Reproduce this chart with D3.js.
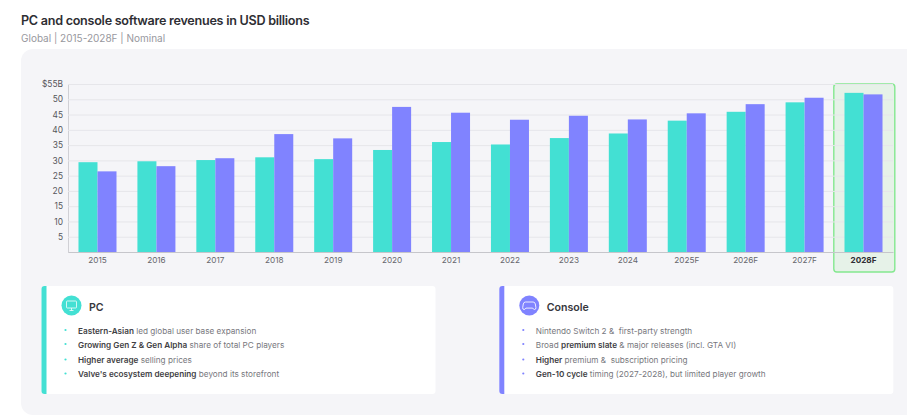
<!DOCTYPE html>
<html>
<head>
<meta charset="utf-8">
<script src="https://cdn.jsdelivr.net/npm/d3@7"></script>
<style>
  html, body { margin: 0; padding: 0; background: #fff; overflow: hidden; }
  text { font-family: Inter, "Open Sans", sans-serif; }
</style>
</head>
<body>
<svg id="chart" width="907" height="420"></svg>
<script>
var years = ["2015", "2016", "2017", "2018", "2019", "2020", "2021", "2022", "2023", "2024", "2025F", "2026F", "2027F", "2028F"];
var pcValues = [29.4, 29.7, 30.1, 31, 30.4, 33.4, 36, 35.2, 37.3, 38.8, 43, 45.9, 49, 52.1];
var consoleValues = [26.4, 28.1, 30.7, 38.6, 37.2, 47.5, 45.6, 43.3, 44.6, 43.4, 45.4, 48.4, 50.5, 51.6];
var yTicks = [5, 10, 15, 20, 25, 30, 35, 40, 45, 50, 55];

var titleText = "PC and console software revenues in USD billions";
var subtitleText = "Global | 2015-2028F | Nominal";

// each line is [text, bold?] pieces
var pcNotes = [
    [["Eastern-Asian", true], [" led global user base expansion", false]],
    [["Growing Gen Z & Gen Alpha", true], [" share of total PC players", false]],
    [["Higher average", true], [" selling prices", false]],
    [["Valve's ecosystem deepening", true], [" beyond its storefront", false]]
];
var consoleNotes = [
    [["Nintendo Switch 2 &  first-party strength", false]],
    [["Broad ", false], ["premium slate", true], [" & major releases (incl. GTA VI)", false]],
    [["Higher", true], [" premium &  subscription pricing", false]],
    [["Gen-10 cycle", true], [" timing (2027-2028), but limited player growth", false]]
];

var TEAL = "#43e0d3";
var PURPLE = "#8083ff";

var svg = d3.select("#chart");

svg.append("text")
    .attr("x", 21).attr("y", 25)
    .attr("font-size", 12.6).attr("font-weight", 600)
    .attr("letter-spacing", -0.27)
    .attr("fill", "#2e2e33")
    .text(titleText);

svg.append("text")
    .attr("x", 21).attr("y", 42)
    .attr("font-size", 10)
    .attr("fill", "#98989e")
    .text(subtitleText);

// grey panel, runs off the right edge
svg.append("rect")
    .attr("x", 21).attr("y", 49)
    .attr("width", 920).attr("height", 366)
    .attr("rx", 12)
    .attr("fill", "#f5f5f8");

var x = d3.scaleBand()
    .domain(years)
    .range([68, 893])
    .paddingInner(0.355)
    .paddingOuter(0.178);

var y = d3.scaleLinear()
    .domain([0, 55])
    .range([252, 84]);

var xSub = d3.scaleBand()
    .domain(["pc", "console"])
    .range([0, x.bandwidth()]);

// highlight behind the last year
svg.append("rect")
    .attr("x", x("2028F") + x.bandwidth() / 2 - 29.7)
    .attr("y", 84)
    .attr("width", 61)
    .attr("height", 188)
    .attr("rx", 3)
    .attr("fill", "#e6f2e8")
    .attr("stroke", "#84e88f")
    .attr("stroke-width", 1.4);

var yAxis = svg.append("g")
    .attr("class", "y-axis")
    .attr("transform", "translate(68,0)")
    .call(d3.axisLeft(y)
        .tickValues(yTicks)
        .tickSize(-825)
        .tickPadding(5)
        .tickFormat(function(d) { return d === 55 ? "$55B" : d; }));

yAxis.select(".domain").attr("stroke", "#d0d0d5");
yAxis.selectAll(".tick line").attr("stroke", "#e6e6ea");
yAxis.selectAll(".tick text")
    .attr("font-family", null)
    .attr("font-size", 8.4)
    .attr("fill", "#55555b");

var groups = svg.selectAll("g.year")
    .data(years).enter()
    .append("g")
    .attr("class", "year")
    .attr("transform", function(d) { return "translate(" + x(d) + ",0)"; });

groups.append("rect")
    .attr("x", xSub("pc"))
    .attr("y", function(d, i) { return y(pcValues[i]); })
    .attr("width", xSub.bandwidth())
    .attr("height", function(d, i) { return y(0) - y(pcValues[i]); })
    .attr("fill", TEAL);

groups.append("rect")
    .attr("x", xSub("console"))
    .attr("y", function(d, i) { return y(consoleValues[i]); })
    .attr("width", xSub.bandwidth())
    .attr("height", function(d, i) { return y(0) - y(consoleValues[i]); })
    .attr("fill", PURPLE);

var xAxis = svg.append("g")
    .attr("class", "x-axis")
    .attr("transform", "translate(0,252)")
    .call(d3.axisBottom(x).tickSize(0).tickPadding(5));

xAxis.select(".domain").attr("stroke", "#c6c6cb").attr("stroke-width", 1.2);
xAxis.selectAll(".tick text")
    .attr("font-family", null)
    .attr("font-size", 8.2)
    .attr("fill", "#66666c")
    .attr("font-weight", function(d) { return d === "2028F" ? 700 : 400; })
    .filter(function(d) { return d === "2028F"; })
    .attr("fill", "#2e2e33");

function drawCard(left, color, title, notes, drawIcon) {
    var g = svg.append("g")
        .attr("class", "card")
        .attr("transform", "translate(" + left + ",286)");

    g.append("rect")
        .attr("width", 394).attr("height", 108)
        .attr("rx", 3)
        .attr("fill", "#fff");

    g.append("path")
        .attr("d", "M5 0H3Q0 0 0 3V105Q0 108 3 108H5Z")
        .attr("fill", color);

    g.append("circle")
        .attr("cx", 30).attr("cy", 19.5).attr("r", 10)
        .attr("fill", color);

    drawIcon(g.append("g").attr("transform", "translate(30,19.5)"));

    g.append("text")
        .attr("x", 47.5).attr("y", 24.5)
        .attr("font-size", 10.6).attr("font-weight", 600)
        .attr("fill", "#37373c")
        .text(title);

    var rowY = [44.5, 58.5, 74, 88];
    notes.forEach(function(line, i) {
        g.append("circle")
            .attr("cx", 24).attr("cy", rowY[i] - 0.5).attr("r", 1.1)
            .attr("fill", color);

        var t = g.append("text")
            .attr("x", 36.5).attr("y", rowY[i] + 3)
            .attr("font-size", 8.2)
            .attr("xml:space", "preserve");

        line.forEach(function(part) {
            t.append("tspan")
                .attr("font-weight", part[1] ? 600 : 400)
                .attr("fill", part[1] ? "#3f3f45" : "#77777d")
                .text(part[0]);
        });
    });
}

function monitorIcon(g) {
    g.append("rect")
        .attr("x", -5).attr("y", -4.5).attr("width", 10).attr("height", 7).attr("rx", 0.8)
        .attr("fill", "none").attr("stroke", "#fff").attr("stroke-opacity", 0.75);
    g.append("path")
        .attr("d", "M0 2.5V5M-2 5H2")
        .attr("fill", "none").attr("stroke", "#fff").attr("stroke-opacity", 0.75);
}

function gamepadIcon(g) {
    g.append("path")
        .attr("d", "M-3.8 -3.5H3.8Q5.6 -3.5 6 -1.5L6.6 2Q6.8 4 5.2 4Q4.2 4 3.4 2.6H-3.4Q-4.2 4 -5.2 4Q-6.8 4 -6.6 2L-6 -1.5Q-5.6 -3.5 -3.8 -3.5Z")
        .attr("fill", "none").attr("stroke", "#fff").attr("stroke-opacity", 0.85);
}

drawCard(41.5, TEAL, "PC", pcNotes, monitorIcon);
drawCard(499.3, PURPLE, "Console", consoleNotes, gamepadIcon);
</script>
</body>
</html>
